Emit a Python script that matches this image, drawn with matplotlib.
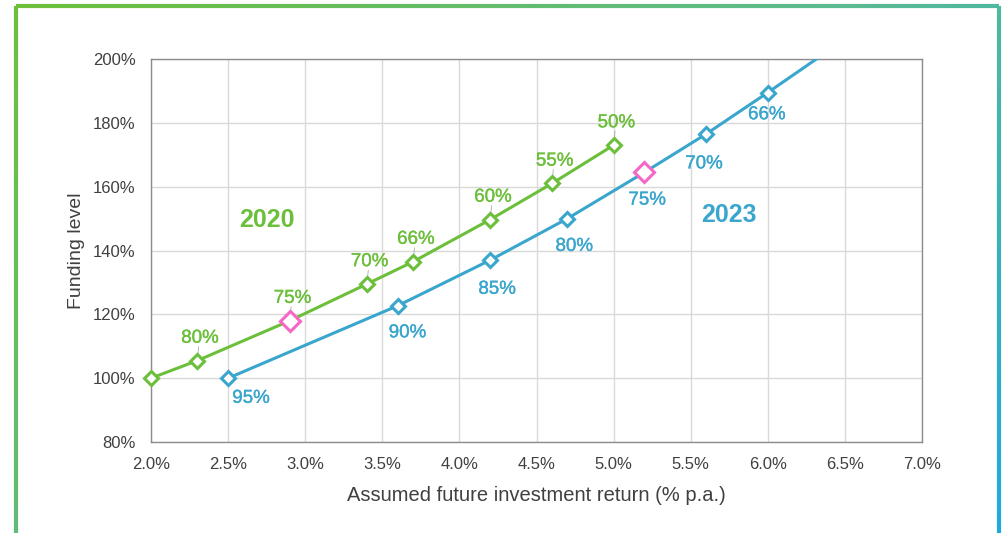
import matplotlib.pyplot as plt
import matplotlib.patheffects as pe
import numpy as np
from matplotlib.collections import LineCollection
from matplotlib.colors import LinearSegmentedColormap

plt.rcParams['font.family'] = ['Liberation Sans', 'DejaVu Sans']

# data
ret_2020 = [2.0, 2.3, 2.9, 3.4, 3.7, 4.2, 4.6, 5.0]
fund_2020 = [100, 105.5, 118, 129.5, 136.5, 149.7, 161, 173]
lab_2020 = ['', '80%', '75%', '70%', '66%', '60%', '55%', '50%']

ret_2023 = [2.5, 3.6, 4.2, 4.7, 5.2, 5.6, 6.0, 6.33]
fund_2023 = [100, 122.7, 137, 150, 164.5, 176.5, 189.5, 200.5]
lab_2023 = ['95%', '90%', '85%', '80%', '75%', '70%', '66%', '']

pink_2020 = 2      # index of highlighted point
pink_2023 = 4

green = '#6cbf3b'
blue = '#3aa6cd'
pink = '#f566c6'

# label offsets (points) for 2023 labels
off_2023 = [(16.5, -14.5), (7, -19.5), (5, -21), (5, -20), (2, -20), (-1.5, -21.5), (-0.7, -16)]

fig = plt.figure(figsize=(10.02, 5.33), dpi=100)
ax = fig.add_axes([0.1507, 0.1707, 0.7695, 0.7186])

ax.plot(ret_2020, fund_2020, color=green, lw=2.2, zorder=3)
ax.plot(ret_2023, fund_2023, color=blue, lw=2.2, zorder=3)

for i, (x, y) in enumerate(zip(ret_2020, fund_2020)):
    if i == pink_2020:
        ax.plot(x, y, marker='D', ms=10, mfc='white', mec=pink, mew=2.2, zorder=5, clip_on=False)
    else:
        ax.plot(x, y, marker='D', ms=7, mfc='white', mec=green, mew=2.2, zorder=4, clip_on=False)
    if lab_2020[i]:
        ax.annotate('', xy=(x, y), xytext=(1, 10), textcoords='offset points',
                    arrowprops=dict(arrowstyle='-', color='#aaaaaa', lw=0.6,
                                    shrinkA=0, shrinkB=4), zorder=2)
        t = ax.annotate(lab_2020[i], xy=(x, y), xytext=(2, 10), textcoords='offset points',
                        ha='center', va='bottom', color=green, fontsize=13.5)
        t.set_path_effects([pe.withStroke(linewidth=0.25, foreground=green)])

for i, (x, y) in enumerate(zip(ret_2023[:-1], fund_2023[:-1])):
    if i == pink_2023:
        ax.plot(x, y, marker='D', ms=10, mfc='white', mec=pink, mew=2.2, zorder=5)
    else:
        ax.plot(x, y, marker='D', ms=7, mfc='white', mec=blue, mew=2.2, zorder=4)
    t = ax.annotate(lab_2023[i], xy=(x, y), xytext=off_2023[i], textcoords='offset points',
                    ha='center', va='center', color=blue, fontsize=13.5)
    t.set_path_effects([pe.withStroke(linewidth=0.25, foreground=blue)])

ax.text(2.75, 149.5, '2020', color=green, fontsize=18, fontweight='bold', ha='center', va='center')
ax.text(5.75, 151, '2023', color=blue, fontsize=18, fontweight='bold', ha='center', va='center')

ax.set_xlim(2.0, 7.0)
ax.set_ylim(80, 200)
xt = np.arange(2.0, 7.01, 0.5)
ax.set_xticks(xt)
ax.set_xticklabels([f'{v:.1f}%' for v in xt])
yt = np.arange(80, 201, 20)
ax.set_yticks(yt)
ax.set_yticklabels([f'{v}%' for v in yt])
ax.tick_params(length=0, labelsize=12, colors='#404040')
ax.tick_params(axis='y', pad=11)
ax.tick_params(axis='x', pad=11)
ax.grid(True, color='#d9d9d9', lw=1)
ax.set_axisbelow(True)
for s in ax.spines.values():
    s.set_color('#8c8c8c')
    s.set_linewidth(1)
ax.set_xlabel('Assumed future investment return (% p.a.)', fontsize=14.5, color='#404040', labelpad=10)
ax.set_ylabel('Funding level', fontsize=14, color='#404040', labelpad=6)

# gradient frame around the picture
W, H = 1002, 533
cmap = LinearSegmentedColormap.from_list('frame', ['#6cbf3b', '#5cbb8f', '#1eaadc'])
def edge(p0, p1, t0, t1):
    n = 60
    xs = np.linspace(p0[0], p1[0], n + 1)
    ys = np.linspace(p0[1], p1[1], n + 1)
    segs = [[(xs[k] / W, 1 - ys[k] / H), (xs[k + 1] / W, 1 - ys[k + 1] / H)] for k in range(n)]
    lc = LineCollection(segs, colors=cmap(np.linspace(t0, t1, n)), linewidths=3,
                        transform=fig.transFigure)
    fig.add_artist(lc)
edge((15.5, 6), (998.5, 6), 0.0, 0.6)
edge((998.5, 6), (998.5, 540), 0.6, 1.0)
edge((15.5, 6), (15.5, 540), 0.0, 0.35)

fig.savefig('out.png', dpi=100)
